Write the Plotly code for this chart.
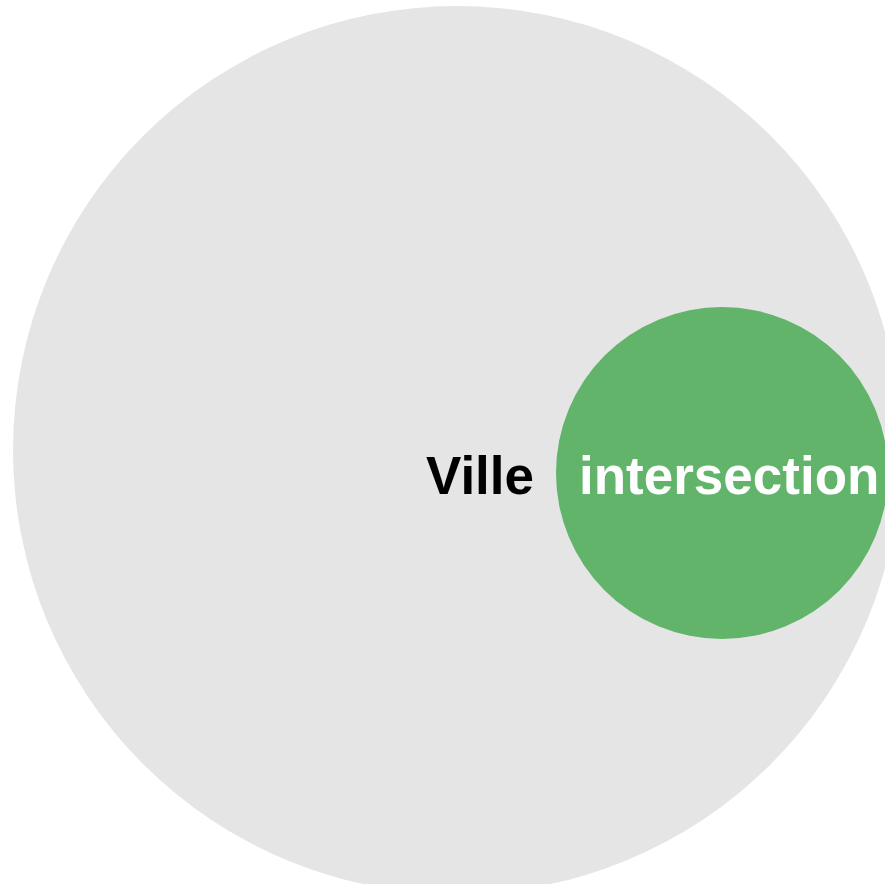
import plotly.graph_objects as go

# Data
labels = ["Ville", "intersection"]
center_x = [457, 722]
center_y = [450, 473]
radius = [444, 166]
fill_colors = ["#e5e5e5", "#61b46a"]
label_x = [480, 729]
label_y = [475, 475]
label_colors = ["#000000", "#ffffff"]

W, H = 885, 884

fig = go.Figure()
fig.add_trace(go.Scatter(x=[0, W], y=[0, H], mode="markers",
                         marker=dict(opacity=0), hoverinfo="skip", showlegend=False))

for cx, cy, r, col in zip(center_x, center_y, radius, fill_colors):
    fig.add_shape(type="circle", xref="x", yref="y",
                  x0=cx - r, x1=cx + r, y0=cy - r, y1=cy + r,
                  fillcolor=col, line=dict(width=0), layer="below")

for lab, x, y, c in zip(labels, label_x, label_y, label_colors):
    fig.add_annotation(x=x, y=y, xref="x", yref="y", text=f"<b>{lab}</b>",
                       showarrow=False, xanchor="center", yanchor="middle",
                       font=dict(family="Liberation Sans, Arial, sans-serif", size=53, color=c))

fig.update_xaxes(range=[0, W], visible=False, fixedrange=True)
fig.update_yaxes(range=[H, 0], visible=False, fixedrange=True)
fig.update_layout(width=W, height=H, margin=dict(l=0, r=0, t=0, b=0),
                  paper_bgcolor="white", plot_bgcolor="white", showlegend=False,
                  hovermode=False)

fig.write_html("out.html", config={"displayModeBar": False, "staticPlot": True},
               post_script="document.body.style.margin='0';document.body.style.overflow='hidden';")
